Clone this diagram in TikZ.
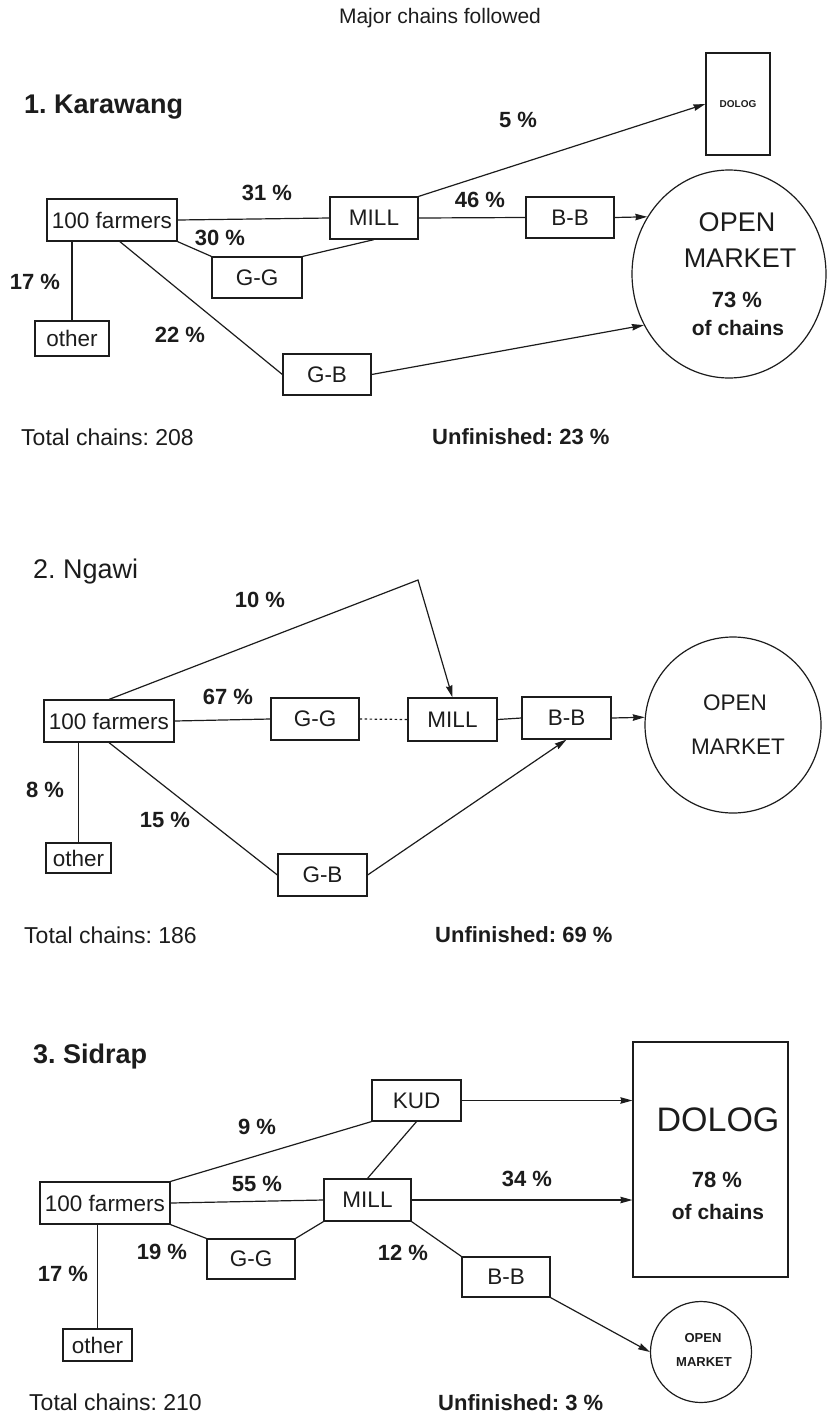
\documentclass[tikz,border=0pt]{standalone}
\usepackage{fontspec}
\setmainfont{Liberation Sans}
\usepackage{xcolor,tikz}
\usetikzlibrary{arrows.meta,shapes.geometric}
\definecolor{ink}{HTML}{1C1C1C}
\frenchspacing
\newcommand\boxfont{\fontsize{22.5}{27}\selectfont}
\newcommand\pctfont{\fontsize{22}{26}\selectfont\bfseries}
\newcommand\headfont{\fontsize{27}{31}\selectfont\bfseries}
\tikzset{box/.style={draw=ink,line width=1.2pt,inner sep=0pt,minimum width=88pt,
  minimum height=41pt,font=\boxfont,text=ink},
  pct/.style={font=\pctfont,text=ink,inner sep=0pt},
  note/.style={font=\fontsize{23}{27}\selectfont,anchor=west,text=ink,inner sep=0pt},
  market/.style={draw=ink,line width=1.2pt,inner sep=0pt},
  link/.style={draw=ink,line width=1.2pt},
  arrow/.style={-{Stealth[length=12pt,width=6.5pt,inset=1pt]},line width=1.2pt,draw=ink}}

\begin{document}
\begin{tikzpicture}[x=1pt,y=-1pt]
\useasboundingbox (0,0) rectangle (827,1414);
\node[font=\fontsize{21}{25}\selectfont,text=ink,inner sep=0pt] (title) at (440,18) {Major chains followed};

\node[note,font=\headfont] (head1) at (24,107) {1. Karawang};
\node[box,minimum width=130pt,minimum height=42pt] (farm1) at (112,220) {100 farmers};
\node[box,minimum height=42pt] (mill1) at (374,218) {MILL};
\node[box] (bb1) at (570,217.5) {B-B};
\node[box,minimum width=90pt] (gg1) at (257,277.5) {G-G};
\node[box,minimum width=74pt,minimum height=35pt] (oth1) at (72,338.5) {other};
\node[box] (gb1) at (327,374.5) {G-B};
\node[box,minimum width=64pt,minimum height=102pt,font=\fontsize{10}{12}\selectfont\bfseries] (dolog1) at (738,104) {DOLOG};
\node[market,ellipse,minimum width=194pt,minimum height=208pt] (mkt1) at (729,274) {};
\node[font=\fontsize{27}{31}\selectfont,text=ink,inner sep=0pt] (open1) at (737,222) {OPEN};
\node[font=\fontsize{27}{31}\selectfont,text=ink,inner sep=0pt] (name1) at (740,258) {MARKET};
\node[pct] (share1) at (737,300) {73 \%};
\node[pct,font=\fontsize{21}{25}\selectfont\bfseries] (of1) at (738,328) {of chains};
\draw[link] (farm1.east) -- (mill1.west);
\draw[link] (farm1.south east) -- (gg1.north west);
\draw[link] (gg1.north east) -- (mill1.south);
\draw[link] (mill1.east) -- (bb1.west);
\draw[arrow] (mill1.north east) -- (dolog1.west);
\draw[arrow] (bb1.east) -- (mkt1.145);
\draw[link] (farm1.290) -- (gb1.west);
\draw[arrow] (gb1.east) -- (mkt1.211);
\draw[link] (oth1.north) -- (oth1.north |- farm1.south);
\node[pct] (p5) at (518,120) {5 \%};
\node[pct] (p31) at (267,193) {31 \%};
\node[pct] (p46) at (480,200) {46 \%};
\node[pct] (p30) at (220,238) {30 \%};
\node[pct] (p17a) at (35,282) {17 \%};
\node[pct] (p22) at (180,335) {22 \%};
\node[note] (tot1) at (21,437) {Total chains: 208};
\node[note,font=\pctfont] (unf1) at (432,437) {Unfinished: 23 \%};

\node[note,font=\fontsize{27}{31}\selectfont] (head2) at (33,572) {2. Ngawi};
\node[box,minimum width=130pt,minimum height=42pt] (farm2) at (109,721) {100 farmers};
\node[box,minimum height=42pt] (gg2) at (315,719) {G-G};
\node[box,minimum width=89pt,minimum height=43pt] (mill2) at (452.5,719.5) {MILL};
\node[box,minimum width=89pt,minimum height=42pt] (bb2) at (566.5,718) {B-B};
\node[box,minimum width=65pt,minimum height=30pt] (oth2) at (78.5,858) {other};
\node[box,minimum width=89pt,minimum height=42pt] (gb2) at (322.5,875) {G-B};
\node[market,circle,minimum size=176pt] (mkt2) at (733,725) {};
\node[font=\boxfont,text=ink,inner sep=0pt] (open2) at (735,703) {OPEN};
\node[font=\boxfont,text=ink,inner sep=0pt] (name2) at (738,747) {MARKET};
\coordinate (apex2) at (418,580);
\draw[arrow] (farm2.north) -- (apex2) -- (mill2.north);
\draw[link] (farm2.east) -- (gg2.west);
\draw[link,dash pattern=on 2.5pt off 2.5pt] (gg2.east) -- (mill2.west);
\draw[link] (mill2.east) -- (bb2.west);
\draw[arrow] (bb2.east) -- (mkt2.175);
\draw[link] (farm2.south) -- (gb2.west);
\draw[arrow] (gb2.east) -- (bb2.south);
\draw[link] (oth2.north) -- (oth2.north |- farm2.south);
\node[pct] (p10) at (260,600) {10 \%};
\node[pct] (p67) at (228,697) {67 \%};
\node[pct] (p8) at (45,790) {8 \%};
\node[pct] (p15) at (165,820) {15 \%};
\node[note] (tot2) at (24,935) {Total chains: 186};
\node[note,font=\pctfont] (unf2) at (435,935) {Unfinished: 69 \%};

\node[note,font=\headfont] (head3) at (33,1057) {3. Sidrap};
\node[box,minimum width=130pt,minimum height=42pt] (farm3) at (105,1203) {100 farmers};
\node[box,minimum width=89pt] (kud3) at (416.5,1100.5) {KUD};
\node[box,minimum width=87pt,minimum height=42pt] (mill3) at (367.5,1200) {MILL};
\node[box,minimum height=40pt] (gg3) at (251,1259) {G-G};
\node[box,minimum height=40pt] (bb3) at (506,1277) {B-B};
\node[box,minimum width=69pt,minimum height=32pt] (oth3) at (97.5,1345) {other};
\node[box,minimum width=155pt,minimum height=235pt] (dolog3) at (710.5,1159.5) {};
\node[font=\fontsize{34}{38}\selectfont,text=ink,inner sep=0pt] (name3) at (718,1120) {DOLOG};
\node[pct] (share3) at (717,1180) {78 \%};
\node[pct,font=\fontsize{21}{25}\selectfont\bfseries] (of3) at (718,1212) {of chains};
\node[market,circle,minimum size=101pt] (mkt3) at (701,1352) {};
\node[font=\fontsize{13}{15}\selectfont\bfseries,text=ink,inner sep=0pt] (open3) at (703,1338) {OPEN};
\node[font=\fontsize{13}{15}\selectfont\bfseries,text=ink,inner sep=0pt] (mark3) at (704,1362) {MARKET};
\draw[link] (farm3.north east) -- (kud3.south west);
\draw[link] (farm3.east) -- (mill3.west);
\draw[link] (kud3.south) -- (mill3.north);
\draw[link] (farm3.south east) -- (gg3.north west);
\draw[link] (gg3.north east) -- (mill3.south west);
\draw[arrow] (kud3.east) -- (kud3.east -| dolog3.west);
\draw[arrow] (mill3.east) -- (mill3.east -| dolog3.west);
\draw[link] (mill3.south east) -- (bb3.north west);
\draw[arrow] (bb3.south east) -- (mkt3.west);
\draw[link] (oth3.north) -- (oth3.north |- farm3.south);
\node[pct] (p9) at (257,1127) {9 \%};
\node[pct] (p55) at (257,1184) {55 \%};
\node[pct] (p19) at (162,1252) {19 \%};
\node[pct] (p17c) at (63,1274) {17 \%};
\node[pct] (p12) at (403,1253) {12 \%};
\node[pct] (p34) at (527,1179) {34 \%};
\node[note] (tot3) at (29,1402) {Total chains: 210};
\node[note,font=\pctfont] (unf3) at (438,1403) {Unfinished: 3 \%};
\end{tikzpicture}
\end{document}
